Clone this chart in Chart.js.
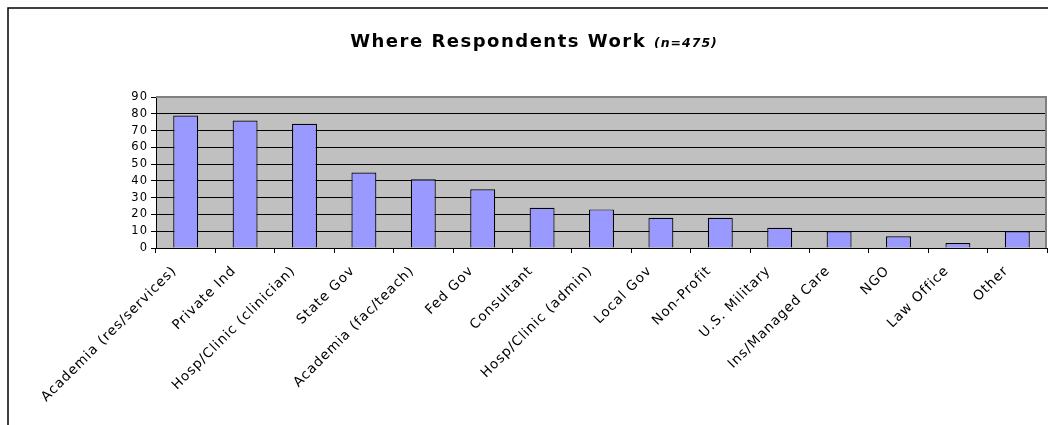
<!DOCTYPE html>
<html>
<head>
<meta charset="utf-8">
<script src="https://cdn.jsdelivr.net/npm/chart.js@4"></script>
<style>
  body { margin: 0; background: #fff; }
  canvas { display: block; }
</style>
</head>
<body>
<canvas id="workChart" width="1048" height="425"></canvas>
<script>
// chart data
const categories = [
  'Academia (res/services)', 'Private Ind', 'Hosp/Clinic (clinician)', 'State Gov',
  'Academia (fac/teach)', 'Fed Gov', 'Consultant', 'Hosp/Clinic (admin)', 'Local Gov',
  'Non-Profit', 'U.S. Military', 'Ins/Managed Care', 'NGO', 'Law Office', 'Other'
];
const respondents = [79, 76, 74, 45, 41, 35, 24, 23, 18, 18, 12, 10, 7, 3, 10];
const titleMain = 'Where Respondents Work';
const titleNote = '(n=475)';

const FONT = '"DejaVu Sans", "Liberation Sans", Arial, sans-serif';

// the old export draws its text wide, so space the letters out a little
const spacing = {
  id: 'spacing',
  beforeUpdate(chart) { chart.ctx.letterSpacing = '1px'; },
  beforeDraw(chart) {
    const ctx = chart.ctx;
    const a = chart.chartArea;
    ctx.save();
    ctx.fillStyle = '#fff';
    ctx.fillRect(0, 0, chart.width, chart.height);
    ctx.fillStyle = '#C0C0C0';
    ctx.fillRect(a.left, a.top, a.right - a.left, a.bottom - a.top);
    // outer frame (top + left only visible)
    ctx.strokeStyle = '#000';
    ctx.lineWidth = 1.5;
    ctx.beginPath();
    ctx.moveTo(8, chart.height);
    ctx.lineTo(8, 8);
    ctx.lineTo(chart.width, 8);
    ctx.stroke();
    ctx.restore();
    ctx.letterSpacing = '1px';
  }
};

const frameAndTitle = {
  id: 'frameAndTitle',
  afterDraw(chart) {
    const ctx = chart.ctx;
    const a = chart.chartArea;
    ctx.save();
    // grey plot border on top and right
    ctx.strokeStyle = '#808080';
    ctx.lineWidth = 2;
    ctx.beginPath();
    ctx.moveTo(a.left, a.top);
    ctx.lineTo(a.right - 1, a.top);
    ctx.lineTo(a.right - 1, a.bottom);
    ctx.stroke();

    // title with the smaller italic note after it
    ctx.fillStyle = '#000';
    ctx.textBaseline = 'alphabetic';
    ctx.textAlign = 'left';
    ctx.letterSpacing = '1.5px';
    ctx.font = 'bold 18px ' + FONT;
    const w1 = ctx.measureText(titleMain + ' ').width;
    ctx.letterSpacing = '1px';
    ctx.font = 'italic bold 12.5px ' + FONT;
    const w2 = ctx.measureText(titleNote).width;
    const x0 = chart.width / 2 + 10 - (w1 + w2) / 2;
    ctx.letterSpacing = '1.5px';
    ctx.font = 'bold 18px ' + FONT;
    ctx.fillText(titleMain + ' ', x0, 47);
    ctx.letterSpacing = '1px';
    ctx.font = 'italic bold 12.5px ' + FONT;
    ctx.fillText(titleNote, x0 + w1, 47);
    ctx.restore();
  }
};

new Chart(document.getElementById('workChart').getContext('2d'), {
  type: 'bar',
  data: {
    labels: categories,
    datasets: [{
      label: 'Respondents',
      data: respondents,
      backgroundColor: '#9999FF',
      borderColor: '#000',
      borderWidth: 1.2,
      barPercentage: 0.42,
      categoryPercentage: 1
    }]
  },
  options: {
    responsive: false,
    animation: false,
    devicePixelRatio: 1,
    layout: { padding: { top: 97, left: 0, right: 1, bottom: 0 } },
    plugins: {
      legend: { display: false },
      title: { display: false },
      tooltip: { enabled: false }
    },
    scales: {
      x: {
        grid: { drawOnChartArea: false, drawTicks: true, tickLength: 5, color: '#000', offset: true },
        border: { color: '#000', width: 1 },
        ticks: {
          color: '#000',
          font: { family: FONT, size: 13.5 },
          minRotation: 45,
          maxRotation: 45,
          autoSkip: false,
          padding: 10,
          labelOffset: -11
        },
        afterFit(scale) {
          scale.height = 425 - 248;
          scale.paddingLeft = 0;
          scale.paddingRight = 0;
        }
      },
      y: {
        min: 0,
        max: 90,
        grid: { color: '#000', lineWidth: 1, tickLength: 5 },
        border: { color: '#000', width: 1 },
        ticks: {
          stepSize: 10,
          autoSkip: false,
          color: '#000',
          font: { family: FONT, size: 11.5 },
          padding: 3
        },
        afterFit(scale) {
          scale.width = 156;
          scale.paddingTop = 0;
          scale.paddingBottom = 0;
        }
      }
    }
  },
  plugins: [spacing, frameAndTitle]
});
</script>
</body>
</html>
